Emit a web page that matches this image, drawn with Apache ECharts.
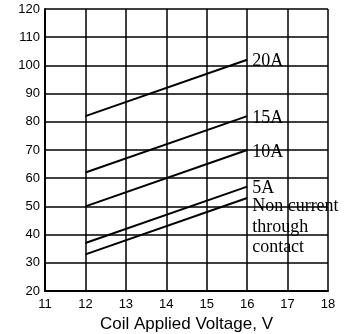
<!DOCTYPE html>
<html>
<head>
<meta charset="utf-8">
<script src="https://cdn.jsdelivr.net/npm/echarts@6/dist/echarts.min.js"></script>
<style>
  html, body { margin: 0; padding: 0; background: #fff; }
  #chart { width: 356px; height: 334px; }
</style>
</head>
<body>
<div id="chart"></div>
<script>
const voltages = [12, 16]
const seriesNames = ['20A', '15A', '10A', '5A', 'Non current\nthrough\ncontact']
const amp20 = [82, 102]
const amp15 = [62, 82]
const amp10 = [50, 70]
const amp5 = [37, 57]
const nonCurrent = [33, 53]
const xTicks = [11, 12, 13, 14, 15, 16, 17, 18]
const yTicks = [20, 30, 40, 50, 60, 70, 80, 90, 100, 110, 120]

const chart = echarts.init(document.getElementById('chart'))
const allValues = [amp20, amp15, amp10, amp5, nonCurrent]

const series = allValues.map((vals, i) => ({
  name: seriesNames[i],
  type: 'line',
  data: vals.map((v, j) => [voltages[j], v]),
  symbol: 'none',
  lineStyle: { color: '#000', width: 2 },
  endLabel: {
    show: true,
    formatter: seriesNames[i],
    color: '#000',
    fontFamily: 'Liberation Serif',
    fontSize: 18,
    lineHeight: 20.5,
    distance: 5,
    verticalAlign: 'middle',
    offset: i === 4 ? [0, 29] : [0, 2]
  }
}))

chart.setOption({
  animation: false,
  grid: { left: 45, right: 28, top: 9, bottom: 43, outerBoundsMode: 'none' },
  xAxis: {
    type: 'value',
    min: xTicks[0],
    max: xTicks[xTicks.length - 1],
    interval: 1,
    name: 'Coil Applied Voltage, V',
    nameLocation: 'middle',
    nameGap: 23,
    nameTextStyle: { color: '#000', fontFamily: 'Liberation Sans', fontSize: 17 },
    axisLine: { lineStyle: { color: '#000', width: 2 } },
    axisTick: { show: false },
    axisLabel: { color: '#000', fontFamily: 'Liberation Sans', fontSize: 13, margin: 7 },
    splitLine: { show: true, lineStyle: { color: '#000', width: 1.5 } }
  },
  yAxis: {
    type: 'value',
    min: yTicks[0],
    max: yTicks[yTicks.length - 1],
    interval: 10,
    axisLine: { show: true, lineStyle: { color: '#000', width: 2 } },
    axisTick: { show: false },
    axisLabel: { color: '#000', fontFamily: 'Liberation Sans', fontSize: 13, margin: 5 },
    splitLine: { show: true, lineStyle: { color: '#000', width: 1.5 } }
  },
  series
})
</script>
</body>
</html>
